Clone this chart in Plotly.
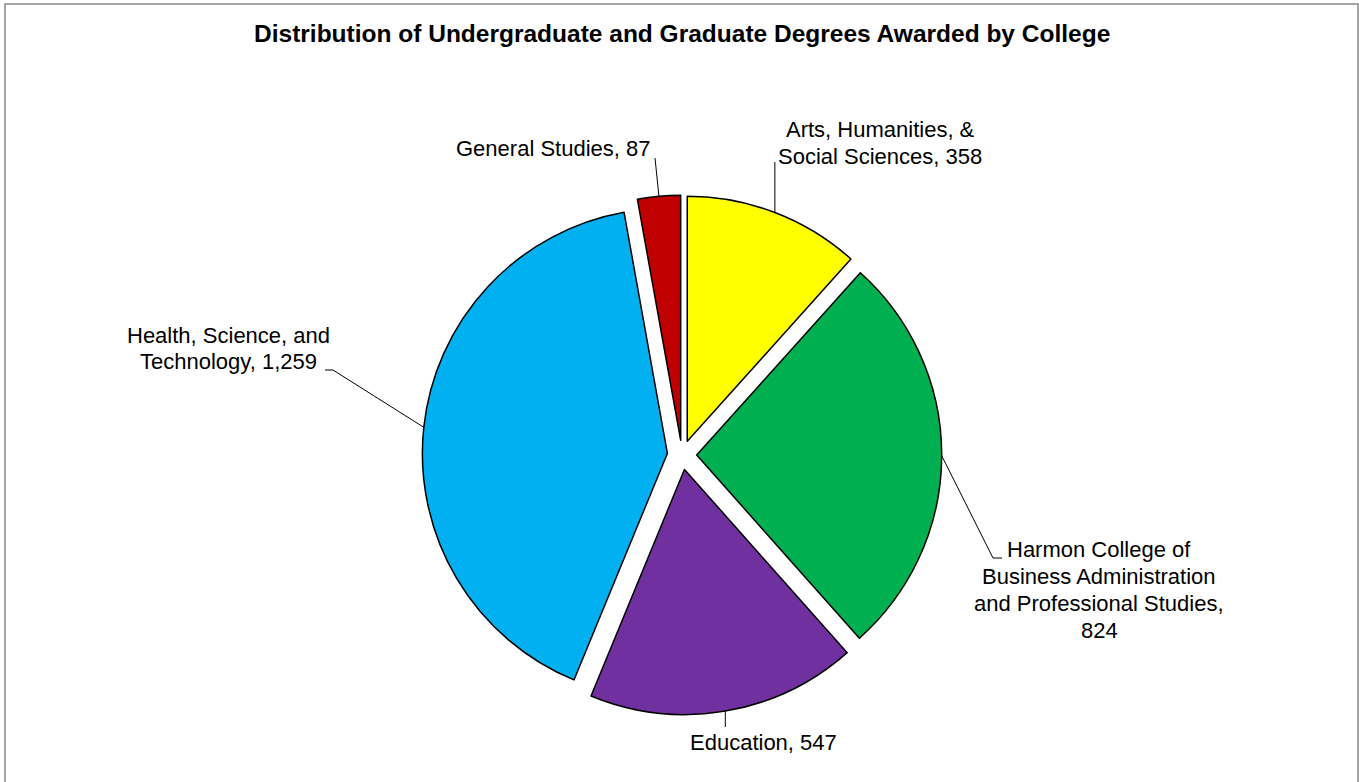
import math
import textwrap
import plotly.graph_objects as go

# ---------------- data ----------------
categories = [
    "Arts, Humanities, & Social Sciences",
    "Harmon College of Business Administration and Professional Studies",
    "Education",
    "Health, Science, and Technology",
    "General Studies",
]
degrees = [358, 824, 547, 1259, 87]
colors = ["#FFFF00", "#00B050", "#7030A0", "#00B0F0", "#C00000"]
title_text = "Distribution of Undergraduate and Graduate Degrees Awarded by College"

# ---------------- layout constants (pixels) ----------------
W, H = 1359, 782
CX, CY = 682, 455          # pie centre
R = 245                    # pie radius
PULL = 0.06                # explode fraction
FONT = "Liberation Sans, Arial, sans-serif"
LABEL_SIZE = 22
LINE_GAP = 26.7

label_wrap = [20, 25, 30, 20, 30]
label_center = [(880, 143), (1099, 590), (764, 742), (228.5, 348.5), (553, 148)]
leader_end = [(None, 162), (993, 558), (None, 727), (333, 370), (655, 158)]
leader_tick = [0, 9, 0, -8, 0]


def px(x):
    return x / W


def py(y):
    return 1 - y / H


hh = R * (1 + PULL)
hw = min(CX, W - CX)
domain_x = [(CX - hw) / W, (CX + hw) / W]
domain_y = [1 - (CY + hh) / H, 1 - (CY - hh) / H]

fig = go.Figure(
    go.Pie(
        labels=categories,
        values=degrees,
        sort=False,
        direction="clockwise",
        rotation=0,
        pull=[PULL] * len(degrees),
        marker=dict(colors=colors, line=dict(color="#000000", width=1.5)),
        textinfo="none",
        hoverinfo="label+value",
        showlegend=False,
        domain=dict(x=domain_x, y=domain_y),
    )
)

shapes = []
annotations = []
total = sum(degrees)
cum = 0
for i, (cat, val) in enumerate(zip(categories, degrees)):
    a0 = cum / total * 360
    cum += val
    a1 = cum / total * 360
    bis = math.radians((a0 + a1) / 2)
    sx = CX + (1 + PULL) * R * math.sin(bis)
    sy = CY - (1 + PULL) * R * math.cos(bis)
    ex, ey = leader_end[i]
    if ex is None:
        ex = sx
    shapes.append(dict(type="line", xref="paper", yref="paper",
                       x0=px(sx), y0=py(sy), x1=px(ex), y1=py(ey),
                       line=dict(color="#000000", width=1)))
    if leader_tick[i]:
        shapes.append(dict(type="line", xref="paper", yref="paper",
                           x0=px(ex), y0=py(ey), x1=px(ex + leader_tick[i]), y1=py(ey),
                           line=dict(color="#000000", width=1)))
    lines = textwrap.wrap(f"{cat}, {val:,}", label_wrap[i])
    lcx, lcy = label_center[i]
    n = len(lines)
    for k, ln in enumerate(lines):
        yy = lcy + (k - (n - 1) / 2) * LINE_GAP
        annotations.append(dict(x=px(lcx), y=py(yy), xref="paper", yref="paper",
                                text=ln, showarrow=False, xanchor="center", yanchor="middle",
                                font=dict(family=FONT, size=LABEL_SIZE, color="#000000")))

annotations.append(dict(x=px(681.7), y=py(34), xref="paper", yref="paper",
                        text=f"<b>{title_text}</b>", showarrow=False,
                        xanchor="center", yanchor="middle",
                        font=dict(family=FONT, size=24.5, color="#000000")))

# chart border
shapes.append(dict(type="rect", xref="paper", yref="paper",
                   x0=px(5), y0=py(H + 10), x1=px(1358), y1=py(4),
                   line=dict(color="#888888", width=1.5), fillcolor="rgba(0,0,0,0)"))

fig.update_layout(
    width=W, height=H,
    margin=dict(l=0, r=0, t=0, b=0, pad=0),
    paper_bgcolor="#FFFFFF", plot_bgcolor="#FFFFFF",
    shapes=shapes, annotations=annotations,
    font=dict(family=FONT),
)

fig.write_html(
    "out.html",
    config={"displayModeBar": False},
    post_script="document.body.style.margin='0px';document.body.style.overflow='hidden';",
)
